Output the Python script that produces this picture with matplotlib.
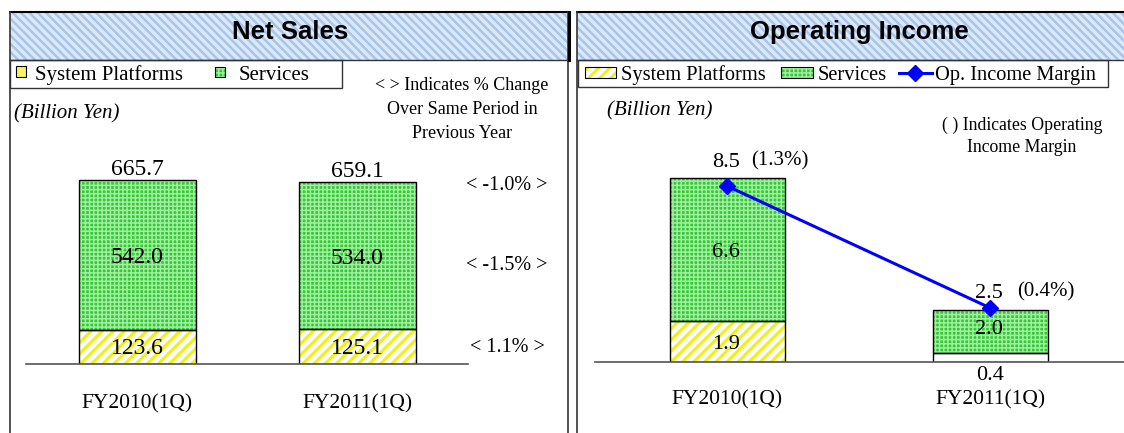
import matplotlib
matplotlib.use('Agg')
import matplotlib.pyplot as plt
from matplotlib.patches import Rectangle
from matplotlib.lines import Line2D

# ---------------- data ----------------
categories = ['FY2010(1Q)', 'FY2011(1Q)']
sales_platforms = [123.6, 125.1]
sales_services = [542.0, 534.0]
sales_total = [665.7, 659.1]
sales_change = ['< -1.0% >', '< -1.5% >', '< 1.1% >']   # total, services, platforms
oi_platforms = [1.9, 0.4]
oi_services = [6.6, 2.0]
oi_total = [8.5, 2.5]
oi_margin = [1.3, 0.4]

W, H = 1124, 433
fig = plt.figure(figsize=(W / 100, H / 100), dpi=100)

SERIF = ['Liberation Serif', 'DejaVu Serif']
SANS = ['Liberation Sans', 'DejaVu Sans']

YEL = '#f0f020'
GRN_FACE = '#34c834'
GRN_HATCH = '#a0eea0'
GRN_HATCH_PAT = '++++'
GRN_HLW = 1.1
BLUE_FACE = '#dde9f8'
BLUE_HATCH = '#a6c6ec'
FRAME = '#333333'


def px_axes(x0, y0, x1, y1):
    return fig.add_axes([x0 / W, 1 - y1 / H, (x1 - x0) / W, (y1 - y0) / H])


def set_hlw(artists, lw):
    for a in artists:
        if hasattr(a, 'set_hatch_linewidth'):
            a.set_hatch_linewidth(lw)


bg = fig.add_axes([0, 0, 1, 1])
bg.set_xlim(0, W)
bg.set_ylim(H, 0)
bg.axis('off')


def hrect(ax, x, y, w, h, face, hatch, hcol, hlw, z=1):
    with plt.rc_context({'hatch.linewidth': hlw, 'hatch.color': hcol}):
        r = Rectangle((x, y), w, h, facecolor=face, edgecolor=hcol,
                      hatch=hatch, linewidth=0, zorder=z)
    set_hlw([r], hlw)
    ax.add_patch(r)
    return r


# ---------------- panel frames & title bands ----------------
for (x0, x1, tx, title) in [(10, 568, 290, 'Net Sales'), (577, 1130, 859, 'Operating Income')]:
    hrect(bg, x0, 12, x1 - x0, 48, BLUE_FACE, '\\\\\\\\', BLUE_HATCH, 1.8)
    bg.plot([x0, x1], [12, 12], color='black', lw=1.5)
    bg.plot([x0, x1], [60, 60], color=FRAME, lw=1)
    bg.plot([x0, x0], [12, 440], color=FRAME, lw=1.2)
    bg.text(tx, 32, title, ha='center', va='center',
            fontsize=18.5, fontweight='bold', family=SANS)
bg.plot([568, 568], [12, 440], color=FRAME, lw=1.2)
bg.plot([569, 569], [12, 60], color='black', lw=2.2)

# ---------------- legends ----------------
# left legend
bg.add_patch(Rectangle((10, 60), 332, 28, facecolor='white', edgecolor=FRAME, lw=1))
bg.add_patch(Rectangle((16, 66), 10, 11, facecolor='#f5f560', edgecolor='black', lw=0.8, zorder=3))
hrect(bg, 215, 67, 10, 10, GRN_FACE, GRN_HATCH_PAT, GRN_HATCH, GRN_HLW, z=2)
bg.add_patch(Rectangle((215, 67), 10, 10, fill=False, edgecolor='black', lw=0.8, zorder=3))
bg.text(35, 75.5, 'System Platforms', va='center', fontsize=15, family=SERIF)
bg.text(239, 75.5, 'Services', va='center', fontsize=15, family=SERIF)

# right legend
bg.add_patch(Rectangle((578, 60), 530, 27, facecolor='white', edgecolor=FRAME, lw=1))
hrect(bg, 585, 67, 31, 11, 'white', '///', YEL, 2.2, z=2)
bg.add_patch(Rectangle((585, 67), 31, 11, fill=False, edgecolor='black', lw=0.8, zorder=3))
bg.text(621, 75.5, 'System Platforms', va='center', fontsize=14.7, family=SERIF)
hrect(bg, 781, 67, 32, 11, GRN_FACE, GRN_HATCH_PAT, GRN_HATCH, GRN_HLW, z=2)
bg.add_patch(Rectangle((781, 67), 32, 11, fill=False, edgecolor='black', lw=0.8, zorder=3))
bg.text(818, 75.5, 'Services', va='center', fontsize=14.7, family=SERIF)
bg.add_line(Line2D([899, 932], [73, 73], color='#0000ff', lw=2.2, zorder=3))
bg.plot([915], [73], marker='D', color='#0000ff', markersize=8, zorder=4)
bg.text(935, 75.5, 'Op. Income Margin', va='center', fontsize=14.7, family=SERIF)

# notes
bg.text(14, 114, '(Billion Yen)', va='center', fontsize=15, style='italic', family=SERIF)
bg.text(607, 111, '(Billion Yen)', va='center', fontsize=15, style='italic', family=SERIF)
bg.text(462, 85, '< > Indicates % Change', ha='center', va='center', fontsize=13, family=SERIF)
bg.text(462, 109, 'Over Same Period in', ha='center', va='center', fontsize=13, family=SERIF)
bg.text(462, 133, 'Previous Year', ha='center', va='center', fontsize=13, family=SERIF)
bg.text(1022, 125, '( ) Indicates Operating', ha='center', va='center', fontsize=12.8, family=SERIF)
bg.text(1022, 147, 'Income Margin', ha='center', va='center', fontsize=12.8, family=SERIF)

# ---------------- Net Sales bars ----------------
ax1 = px_axes(26, 140, 468, 364)
ax1.patch.set_alpha(0)
x = list(range(len(categories)))
bw1 = 117 / 220
ax1.set_xlim((26 - 137.5) / 220, (468 - 137.5) / 220)
ax1.set_ylim(0, 665.7 * (364 - 140) / 184)
with plt.rc_context({'hatch.linewidth': 2.4}):
    b = ax1.bar(x, sales_platforms, bw1, color='white', edgecolor=YEL, hatch='///', linewidth=0)
set_hlw(b, 2.4)
with plt.rc_context({'hatch.linewidth': GRN_HLW}):
    b = ax1.bar(x, sales_services, bw1, bottom=sales_platforms, color=GRN_FACE,
                edgecolor=GRN_HATCH, hatch=GRN_HATCH_PAT, linewidth=0)
set_hlw(b, GRN_HLW)
ax1.bar(x, sales_platforms, bw1, fill=False, edgecolor='black', linewidth=1)
ax1.bar(x, sales_services, bw1, bottom=sales_platforms, fill=False, edgecolor='black', linewidth=1)
for s in ['top', 'right', 'left']:
    ax1.spines[s].set_visible(False)
ax1.spines['bottom'].set_color('#555555')
ax1.spines['bottom'].set_linewidth(1.2)
ax1.set_yticks([])
ax1.set_xticks([])
for i in x:
    ax1.annotate(f'{sales_total[i]:.1f}', (i, sales_total[i]), xytext=(0, 0),
                 textcoords='offset points', ha='center', va='bottom', fontsize=17, family=SERIF)
    ax1.annotate(f'{sales_services[i]:.1f}', (i, sales_platforms[i] + sales_services[i] / 2),
                 xytext=(0, -2), textcoords='offset points',
                 ha='center', va='center', fontsize=17, family=SERIF)
    ax1.annotate(f'{sales_platforms[i]:.1f}', (i, sales_platforms[i] / 2),
                 xytext=(0, -1), textcoords='offset points',
                 ha='center', va='center', fontsize=17, family=SERIF)
    ax1.annotate(categories[i], (i, 0), xytext=(0, -28.5), textcoords='offset points',
                 ha='center', va='center', fontsize=15.5, family=SERIF)
# % change labels to the right (text annotations, placed in panel pixel space)
for lab, ypx in zip(sales_change, [185, 266, 348]):
    bg.text(507, ypx, lab, ha='center', va='center', fontsize=14.5, family=SERIF)

# ---------------- Operating Income bars ----------------
ax2 = px_axes(595, 140, 1124, 362)
ax2.patch.set_alpha(0)
pu = 263.0
bw2 = 115 / pu
ax2.set_xlim((595 - 727) / pu, (1124 - 727) / pu)
ax2.set_ylim(0, 8.5 * (362 - 140) / 184)
with plt.rc_context({'hatch.linewidth': 2.4}):
    b = ax2.bar(x[:1], oi_platforms[:1], bw2, color='white', edgecolor=YEL, hatch='///', linewidth=0)
set_hlw(b, 2.4)
with plt.rc_context({'hatch.linewidth': GRN_HLW}):
    b = ax2.bar(x, oi_services, bw2, bottom=oi_platforms, color=GRN_FACE,
                edgecolor=GRN_HATCH, hatch=GRN_HATCH_PAT, linewidth=0)
set_hlw(b, GRN_HLW)
ax2.bar(x, oi_platforms, bw2, fill=False, edgecolor='black', linewidth=1)
ax2.bar(x, oi_services, bw2, bottom=oi_platforms, fill=False, edgecolor='black', linewidth=1)
for s in ['top', 'right', 'left']:
    ax2.spines[s].set_visible(False)
ax2.spines['bottom'].set_color('#555555')
ax2.spines['bottom'].set_linewidth(1.2)
ax2.set_yticks([])
ax2.set_xticks([])
seg_dy = [-2, 1.5]
for i in x:
    ax2.annotate(f'{oi_services[i]:.1f}', (i, oi_platforms[i] + oi_services[i] / 2),
                 xytext=(-1, seg_dy[i]), textcoords='offset points',
                 ha='center', va='center', fontsize=16, family=SERIF)
    ax2.annotate(categories[i], (i, 0), xytext=(0, -27), textcoords='offset points',
                 ha='center', va='center', fontsize=15.5, family=SERIF)
ax2.annotate(f'{oi_platforms[0]:.1f}', (0, oi_platforms[0] / 2), xytext=(-1, -2),
             textcoords='offset points', ha='center', va='center', fontsize=16, family=SERIF)
ax2.annotate(f'{oi_platforms[1]:.1f}', (1, 0), xytext=(0, -9.5), textcoords='offset points',
             ha='center', va='center', fontsize=16, family=SERIF)

# margin line on secondary axis
ax3 = ax2.twinx()
ax3.set_ylim(0, 1.3 * (362 - 140) / 176)
ax3.plot(x, oi_margin, color='#0000ff', lw=2.2, marker='D', markersize=8)
ax3.axis('off')
ax2.annotate(f'{oi_total[0]:.1f}', (0, oi_total[0]), xytext=(-1, 11.5), textcoords='offset points',
             ha='center', va='center', fontsize=16, family=SERIF)
ax2.annotate(f'({oi_margin[0]:.1f}%)', (0, oi_total[0]), xytext=(38, 12.5), textcoords='offset points',
             ha='center', va='center', fontsize=15, family=SERIF)
ax3.annotate(f'{oi_total[1]:.1f}', (1, oi_margin[1]), xytext=(-1, 10.5), textcoords='offset points',
             ha='center', va='center', fontsize=16, family=SERIF)
ax3.annotate(f'({oi_margin[1]:.1f}%)', (1, oi_margin[1]), xytext=(40, 11.5), textcoords='offset points',
             ha='center', va='center', fontsize=15, family=SERIF)

fig.savefig('out.png', dpi=100)
